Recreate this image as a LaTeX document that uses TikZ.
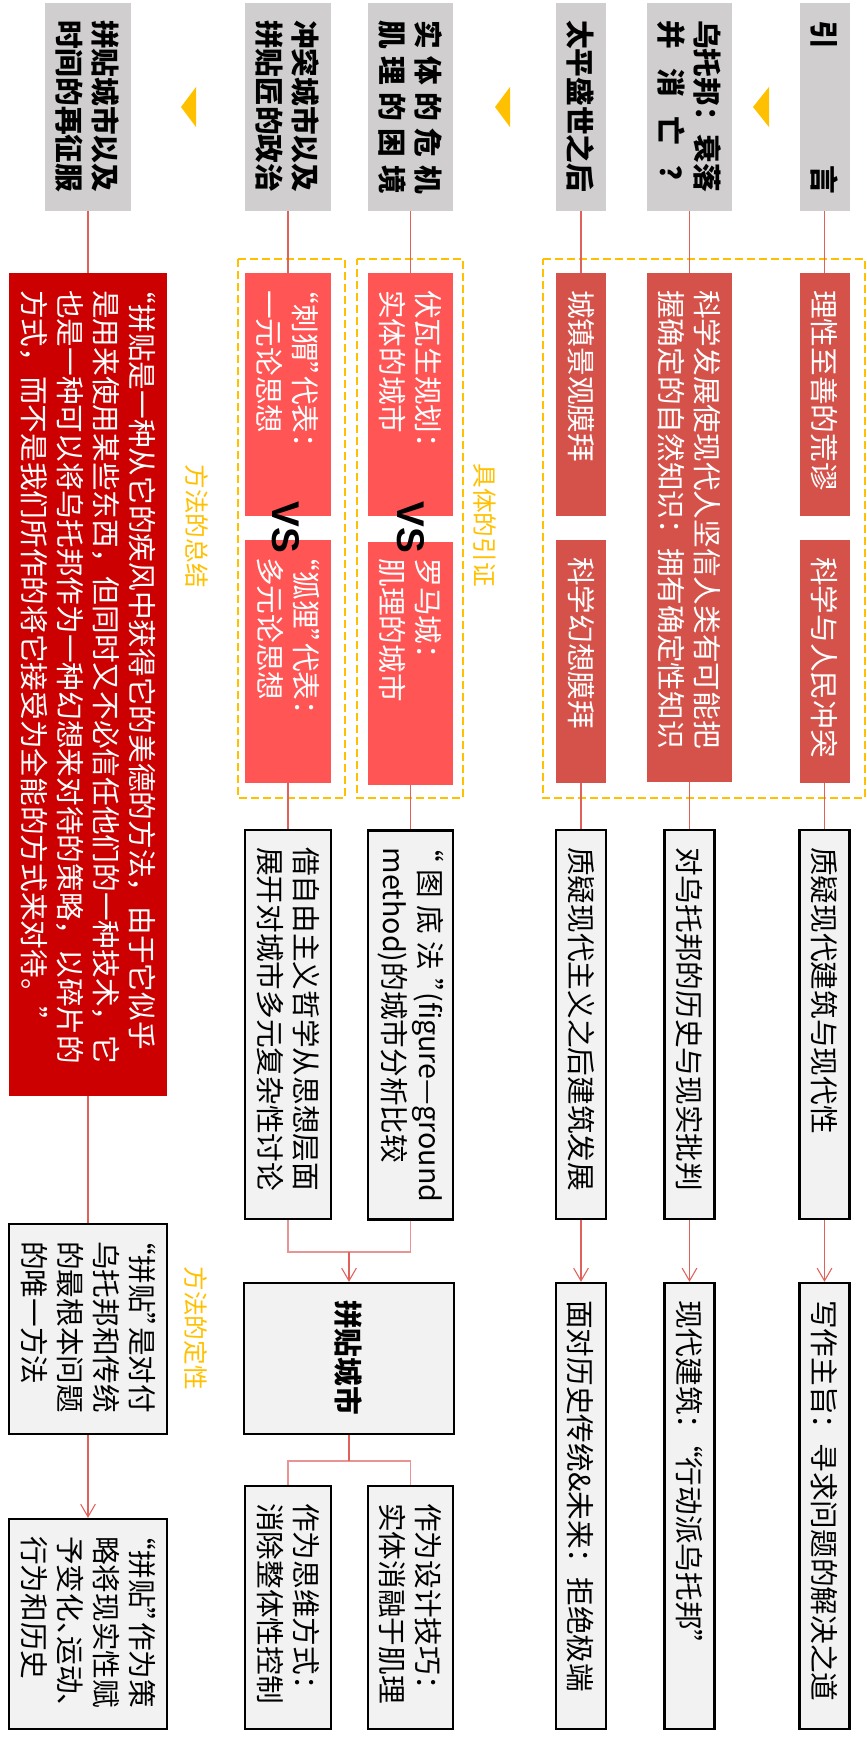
\documentclass[tikz,border=0pt]{standalone}
\usepackage{fontspec}
\setmainfont{Noto Sans CJK SC}
\newfontfamily\vsfont{Liberation Sans}
\usepackage{tikz}
\usetikzlibrary{arrows.meta,positioning}

\definecolor{hdGray}{HTML}{D0CECE}
\definecolor{redA}{HTML}{D5524A}
\definecolor{redB}{HTML}{FF5555}
\definecolor{redQ}{HTML}{CC0000}
\definecolor{boxGray}{HTML}{F2F2F2}
\definecolor{gold}{HTML}{FFC000}
\definecolor{lnRed}{HTML}{E0605A}
\definecolor{brRed}{HTML}{E89494}

%% half-width punctuation
\newcommand\cjkqo{\makebox[.5em][r]{“}}
\newcommand\cjkqc{\makebox[.5em][l]{”}}
\newcommand\cjkdun{\makebox[.5em][l]{、}}

\tikzset{
  %% box kinds
  clHead/.style={fill=hdGray, inner sep=0pt, align=left,
    font=\fontsize{21.5}{27}\selectfont\bfseries},
  clRedA/.style={fill=redA, text=white, inner sep=0pt, align=left,
    font=\fontsize{21.5}{27}\selectfont},
  clRedB/.style={fill=redB, text=white, inner sep=0pt, align=left,
    font=\fontsize{21.5}{27}\selectfont},
  clQuote/.style={fill=redQ, text=white, inner sep=0pt, align=left,
    font=\fontsize{21.5}{27}\selectfont},
  clGray/.style={draw=black, line width=1.7pt, fill=boxGray, inner sep=0pt, align=left,
    font=\fontsize{21.5}{27}\selectfont},
  %% box sizes (along the text)
  szHead/.style={minimum width=156pt, text width=130.5pt},
  szShort/.style={minimum width=182.25pt, text width=156.75pt},
  szLong/.style={minimum width=381.75pt, text width=356.25pt},
  szQuote/.style={minimum width=617.25pt, text width=591.75pt},
  szMid/.style={minimum width=291.75pt, text width=266.25pt},
  szSide/.style={minimum width=157.5pt, text width=132pt},
  szEnd/.style={minimum width=334.5pt, text width=309pt},
  szCity/.style={minimum width=113.25pt, text width=87.75pt},
  thOne/.style={minimum height=37.5pt},
  thTwo/.style={minimum height=64pt},
  thFour/.style={minimum height=118pt},
  %% labels
  lblGold/.style={text=gold, inner sep=0pt, font=\fontsize{18.5}{22}\selectfont},
  vsTxt/.style={inner sep=0pt, font=\vsfont\bfseries\fontsize{29}{32}\selectfont},
  grpDash/.style={draw=gold, line width=1.3pt, dash pattern=on 6pt off 3pt},
  %% connectors
  lnk/.style={draw=lnRed, line width=0.8pt},
  brk/.style={draw=brRed, line width=1pt},
  arw/.style={lnk, -{Straight Barb[length=9.5pt, width=11pt]}},
}

\begin{document}
\begin{tikzpicture}[x=0.75pt, y=0.75pt, rotate=-90, transform shape]
\path[use as bounding box] (0,0) rectangle (1761,867);

%% dashed groups and pointers
\foreach \ylo/\yhi in {543/865, 357/463, 238/345}
  \draw[grpDash] (259,\ylo) rectangle (798,\yhi);
\foreach \yb/\yt in {769/753, 510/495, 196/181}
  \fill[gold] (87,\yb) -- (127,\yb) -- (107,\yt) -- cycle;

%% chapter headers
\node[clHead, szHead, thOne] (hIntro)    at (107,824.5) {\makebox[\linewidth][s]{引\hfill 言}};
\node[clHead, szHead, thTwo] (hUtopia)   at (107,689.5) {乌托邦：衰落\\\makebox[\linewidth][s]{并\hfill 消\hfill 亡\hfill ？}};
\node[clHead, szHead, thOne] (hAfter)    at (107,581)   {太平盛世之后};
\node[clHead, szHead, thTwo] (hCrisis)   at (107,410.5) {\makebox[\linewidth][s]{实\hfill 体\hfill 的\hfill 危\hfill 机}\\\makebox[\linewidth][s]{肌\hfill 理\hfill 的\hfill 困\hfill 境}};
\node[clHead, szHead, thTwo] (hConflict) at (107,288)   {冲突城市以及\\拼贴匠的政治};
\node[clHead, szHead, thTwo] (hCollage)  at (107,88)    {拼贴城市以及\\时间的再征服};

%% red evidence boxes
\node[clRedA, szShort, thOne] (rIntroA) at (394.5,824.5) {理性至善的荒谬};
\node[clRedA, szShort, thOne] (rIntroB) at (661.5,824.5) {科学与人民冲突};
\node[clRedA, szLong, thTwo]  (rUtopia) at (527.5,689.5) {科学发展使现代人坚信人类有可能把\\握确定的自然知识：拥有确定性知识};
\node[clRedA, szShort, thOne] (rAfterA) at (394.5,581)   {城镇景观膜拜};
\node[clRedA, szShort, thOne] (rAfterB) at (661.5,581)   {科学幻想膜拜};
\node[clRedB, szShort, thTwo] (rCrisisA) at (394.5,410.5) {伏瓦生规划：\\实体的城市};
\node[clRedB, szShort, thTwo] (rCrisisB) at (663,410.5)   {罗马城：\\肌理的城市};
\node[clRedB, szShort, thTwo] (rConA)    at (394.5,288)   {\cjkqo 刺猬\cjkqc 代表：\\一元论思想};
\node[clRedB, szShort, thTwo] (rConB)    at (661.5,288)   {\cjkqo 狐狸\cjkqc 代表：\\多元论思想};
\node[clQuote, szQuote, thFour] (rQuote) at (684.5,88)
  {\cjkqo 拼贴是一种从它的疾风中获得它的美德的方法，由于它似乎\\是用来使用某些东西，但同时又不必信任他们的一种技术，它\\也是一种可以将乌托邦作为一种幻想来对待的策略，以碎片的\\方式，而不是我们所作的将它接受为全能的方式来对待。\cjkqc};

\node[vsTxt] (vsCrisis) at (527,411) {VS};
\node[vsTxt] (vsCon)    at (527,286) {VS};

\node[lblGold] (lbCase)  at (525,485)  {具体的引证};
\node[lblGold] (lbSum)   at (526,197)  {方法的总结};
\node[lblGold] (lbNature) at (1328,196) {方法的定性};

%% gray discussion boxes
\node[clGray, szMid, thOne] (gIntro)  at (1024.5,824.5) {质疑现代建筑与现代性};
\node[clGray, szMid, thOne] (gUtopia) at (1024.5,689.5) {对乌托邦的历史与现实批判};
\node[clGray, szMid, thOne] (gAfter)  at (1024.5,581)   {质疑现代主义之后建筑发展};
\node[clGray, szMid, thTwo] (gCrisis) at (1025,410.5)
  {\makebox[\linewidth][s]{\cjkqo\hfill 图\hfill 底\hfill 法\hfill\cjkqc(figure—ground}\\method)的城市分析比较};
\node[clGray, szMid, thTwo] (gCon)    at (1024.5,288)   {借自由主义哲学从思想层面\\展开对城市多元复杂性讨论};
\node[clGray, szSide, thFour] (gCollage) at (1329,88)
  {\cjkqo 拼贴\cjkqc 是对付\\乌托邦和传统\\的最根本问题\\的唯一方法};

%% conclusions
\node[clGray, szEnd, thOne] (fIntro)  at (1506,824.5) {写作主旨：寻求问题的解决之道};
\node[clGray, szEnd, thOne] (fUtopia) at (1506,689.5) {现代建筑：\cjkqo 行动派乌托邦\cjkqc};
\node[clGray, szEnd, thOne] (fAfter)  at (1506,581)   {面对历史传统\&未来：拒绝极端};
\node[clGray, szCity, minimum height=157.5pt, font=\fontsize{21.5}{27}\selectfont\bfseries] (cCity) at (1358.5,349) {拼贴城市};
\node[clGray, szShort, thTwo] (fCrisis) at (1607.5,410.5) {作为设计技巧：\\实体消融于肌理};
\node[clGray, szShort, thTwo] (fCon)    at (1607.5,288)   {作为思维方式：\\消除整体性控制};
\node[clGray, szSide, thFour] (fCollage) at (1624,88)
  {\cjkqo 拼贴\cjkqc 作为策\\略将现实性赋\\予变化\cjkdun 运动\cjkdun\\行为和历史};

%% links
\draw[lnk] (hIntro) -- (rIntroA);
\draw[lnk] (rIntroB) -- (gIntro);
\draw[arw] (gIntro) -- (fIntro);
\draw[lnk] (hUtopia) -- (rUtopia);
\draw[lnk] (rUtopia) -- (gUtopia);
\draw[arw] (gUtopia) -- (fUtopia);
\draw[lnk] (hAfter) -- (rAfterA);
\draw[lnk] (rAfterB) -- (gAfter);
\draw[arw] (gAfter) -- (fAfter);
\draw[lnk] (hCrisis) -- (rCrisisA);
\draw[lnk] (rCrisisB) -- (gCrisis);
\draw[lnk] (hConflict) -- (rConA);
\draw[lnk] (rConB) -- (gCon);
\draw[lnk] (hCollage) -- (rQuote);
\draw[lnk] (rQuote) -- (gCollage);
\draw[arw] (gCollage) -- (fCollage);

\coordinate (jCrisis) at (1252,410.5);
\coordinate (jCon)    at (1252,288);
\coordinate (jMid)    at (1252,349);
\draw[brk] (gCrisis) -- (jCrisis) -- (jCon) -- (gCon);
\draw[arw] (jMid) -- (cCity);
\coordinate (kCrisis) at (1461,410.5);
\coordinate (kCon)    at (1461,288);
\coordinate (kMid)    at (1461,349);
\draw[brk] (fCrisis) -- (kCrisis) -- (kCon) -- (fCon);
\draw[lnk] (cCity) -- (kMid);

\end{tikzpicture}
\end{document}
